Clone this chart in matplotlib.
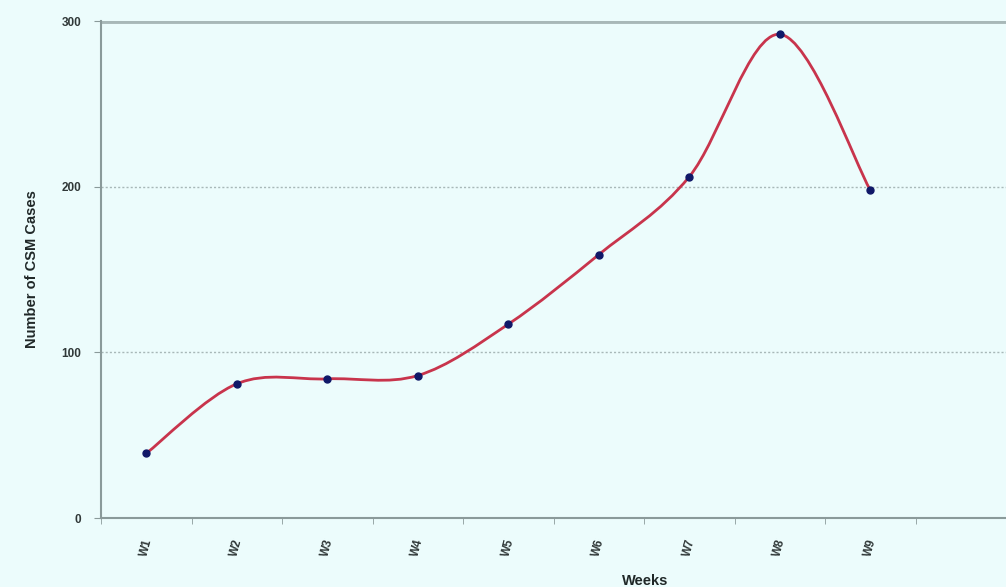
import numpy as np
import matplotlib.pyplot as plt
from matplotlib.path import Path
from matplotlib.patches import PathPatch

weeks = ['W1', 'W2', 'W3', 'W4', 'W5', 'W6', 'W7', 'W8', 'W9']
cases = [39, 81, 84, 86, 117, 159, 206, 292, 198]

bg = '#ecfcfc'
plt.rcParams['font.family'] = ['Liberation Sans', 'DejaVu Sans']

fig = plt.figure(figsize=(10.06, 5.87), dpi=100, facecolor=bg)
ax = fig.add_axes([0.1004, 0.1175, 0.8996, 0.8467], facecolor=bg)

x = np.arange(len(weeks), dtype=float)
y = np.array(cases, dtype=float)

# Excel-style smoothed line: cubic bezier segments
verts = [(x[0], y[0])]
codes = [Path.MOVETO]
n = len(x)
for i in range(n - 1):
    p0 = np.array([x[max(i - 1, 0)], y[max(i - 1, 0)]])
    p1 = np.array([x[i], y[i]])
    p2 = np.array([x[i + 1], y[i + 1]])
    p3 = np.array([x[min(i + 2, n - 1)], y[min(i + 2, n - 1)]])
    c1 = p1 + (p2 - p0) / 6
    c2 = p2 - (p3 - p1) / 6
    verts += [tuple(c1), tuple(c2), tuple(p2)]
    codes += [Path.CURVE4] * 3
ax.add_patch(PathPatch(Path(verts, codes), facecolor='none',
                       edgecolor='#c8344c', lw=2, zorder=3))
ax.plot(x, y, 'o', color='#101868', markersize=5, zorder=4)

ax.set_xlim(-0.5, 9.5)
ax.set_ylim(0, 300)
ax.set_yticks([0, 100, 200, 300])
ax.set_xticks(x)
ax.set_xticklabels(weeks, rotation=75, fontsize=8.5, fontweight='bold', color='#303838')
ax.set_xticks(np.arange(-0.5, 10, 1), minor=True)
ax.tick_params(axis='x', which='major', length=0, pad=14)
ax.tick_params(axis='x', which='minor', length=4, color='#8a9a9a', direction='out')
ax.tick_params(axis='y', length=5, color='#8a9a9a', labelsize=8.5, labelcolor='#303838', pad=9)
for lab in ax.get_yticklabels():
    lab.set_fontweight('bold')

ax.grid(axis='y', color='#a8b8b8', linestyle=(0, (1.5, 1.5)), lw=1)
ax.axhline(300, color='#a8b8b8', lw=3.5, zorder=2)

for s in ['left', 'bottom']:
    ax.spines[s].set_color('#8a9a9a')
    ax.spines[s].set_linewidth(1.5)
for s in ['top', 'right']:
    ax.spines[s].set_visible(False)

ax.set_ylabel('Number of CSM Cases', fontsize=10.5, fontweight='bold', color='#202828')
ax.yaxis.set_label_coords(-0.068, 0.5)
fig.text(0.641, 0.004, 'Weeks', fontsize=10.5, fontweight='bold', color='#202828', ha='center')

fig.savefig('out.png', dpi=100, facecolor=bg)
